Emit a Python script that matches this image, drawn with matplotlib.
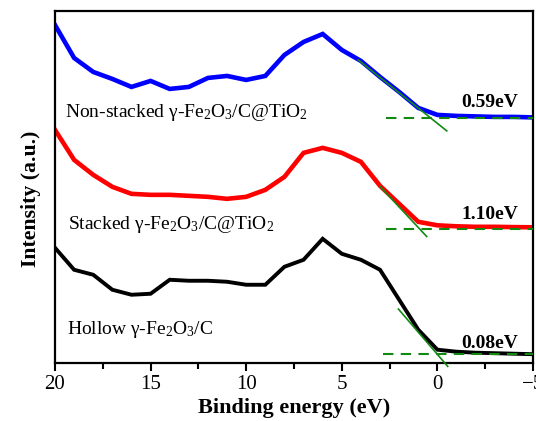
import matplotlib
matplotlib.use("Agg")
import matplotlib.pyplot as plt
from matplotlib.ticker import MultipleLocator

plt.rcParams['font.family'] = ['Liberation Serif', 'DejaVu Serif']
plt.rcParams['mathtext.fontset'] = 'custom'
plt.rcParams['mathtext.rm'] = 'Liberation Serif'
plt.rcParams['mathtext.it'] = 'Liberation Serif:italic'
plt.rcParams['mathtext.bf'] = 'Liberation Serif:bold'

energy = [20, 19, 18, 17, 16, 15, 14, 13, 12, 11, 10, 9, 8, 7, 6, 5, 4, 3, 2, 1, 0, -1, -2, -3, -4, -5]
nonstacked = [338, 305, 291, 284, 276, 282, 274, 276, 285, 287, 283, 287, 308, 321, 329, 313, 302, 286, 271, 255, 248, 247, 246.5, 246, 246, 245.5]
stacked = [233, 203, 188, 176, 169, 168, 168, 167, 166, 164, 166, 173, 186, 210, 215, 210, 201, 177, 159, 141, 137.5, 136.5, 136, 136, 135.7, 135.5]
hollow = [115, 93, 88, 73, 68, 69, 83, 82, 82, 81, 78, 78, 96, 103, 124, 109, 103, 93, 63, 33, 13, 11, 10, 9.5, 9, 8.5]

# tangent lines (x endpoints, y endpoints) and baselines
tan_x = {'ns': [4.14, -0.49], 's': [3.0, 0.56], 'h': [2.04, -0.54]}
tan_y = {'ns': [303, 232], 's': [176.3, 126.3], 'h': [53.7, -3.7]}
base_x = {'ns': [2.69, -5], 's': [2.69, -5], 'h': [2.83, -5]}
base_y = {'ns': 244.7, 's': 134, 'h': 9}

labels = ['Non-stacked γ-Fe$_2$O$_3$/C@TiO$_2$', 'Stacked γ-Fe$_2$O$_3$/C@TiO$_2$', 'Hollow γ-Fe$_2$O$_3$/C']
gaps = ['0.59eV', '1.10eV', '0.08eV']

fig = plt.figure(figsize=(5.36, 4.21), dpi=100)
ax = fig.add_axes([0.1026, 0.1385, 0.8918, 0.8354])

ax.plot(energy, nonstacked, color='#0000ff', lw=3.3, solid_joinstyle='miter', zorder=2)
ax.plot(energy, stacked, color='#ff0000', lw=3.3, solid_joinstyle='miter', zorder=2)
ax.plot(energy, hollow, color='#000000', lw=2.8, solid_joinstyle='miter', zorder=2)

green = '#128a12'
for k in ['ns', 's', 'h']:
    ax.plot(tan_x[k], tan_y[k], color=green, lw=1.2, zorder=3, clip_on=False)
    ax.plot(base_x[k], [base_y[k]] * 2, color=green, lw=1.5, ls=(0, (5, 3.5)), zorder=3)

fs = 14
ax.text(19.48, 246.3, labels[0], fontsize=fs, ha='left', va='baseline')
ax.text(19.32, 133.7, labels[1], fontsize=fs, ha='left', va='baseline')
ax.text(19.37, 29, labels[2], fontsize=fs, ha='left', va='baseline')

ax.text(-4.22, 256, gaps[0], fontsize=14, fontweight='bold', ha='right', va='baseline')
ax.text(-4.22, 143.7, gaps[1], fontsize=14, fontweight='bold', ha='right', va='baseline')
ax.text(-4.22, 14.7, gaps[2], fontsize=14, fontweight='bold', ha='right', va='baseline')

ax.set_xlim(20, -5)
ax.set_ylim(0, 352)
ax.set_xticks([20, 15, 10, 5, 0, -5])
ax.xaxis.set_minor_locator(MultipleLocator(2.5))
ax.set_xticklabels(['20', '15', '10', '5', '0', '\u22125'])
ax.set_yticks([])
ax.tick_params(axis='x', which='major', direction='out', length=6, width=1.5, labelsize=15, pad=3)
ax.tick_params(axis='x', which='minor', direction='out', length=4, width=1.5)
for s in ax.spines.values():
    s.set_linewidth(1.6)

ax.set_xlabel('Binding energy (eV)', fontsize=16, fontweight='bold', labelpad=3)
ax.set_ylabel('Intensity (a.u.)', fontsize=15.7, fontweight='bold', labelpad=10, y=0.467)

fig.savefig('out.png', dpi=100)
